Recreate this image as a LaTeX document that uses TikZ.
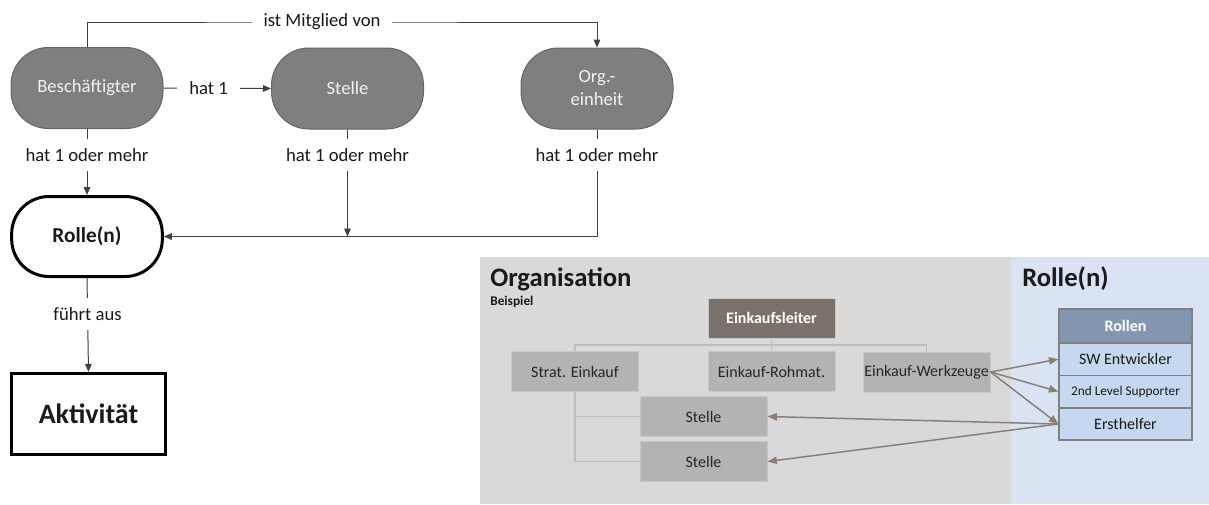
\documentclass[tikz,border=0pt]{standalone}
\usepackage{fontspec}
\setmainfont{Carlito}
\usetikzlibrary{arrows.meta}
\definecolor{nodegray}{HTML}{7F7F7F}
\definecolor{nodeborder}{HTML}{666666}
\definecolor{panelgray}{HTML}{D9D9D9}
\definecolor{panelblue}{HTML}{DAE3F3}
\definecolor{orgbox}{HTML}{B3B3B3}
\definecolor{orgboss}{HTML}{7B716B}
\definecolor{orgline}{HTML}{BDBDBD}
\definecolor{orgborder}{HTML}{C8C8C8}
\definecolor{rolehead}{HTML}{8497B0}
\definecolor{rolecell}{HTML}{C5D8F0}
\definecolor{roleborder}{HTML}{808080}
\definecolor{arrowcol}{HTML}{8A7E76}
\definecolor{txt}{HTML}{1A1A1A}
\begin{document}
\begin{tikzpicture}[x=0.75pt,y=-0.75pt,
  proc/.style={rectangle,rounded corners=28pt,fill=nodegray,draw=nodeborder,line width=0.75pt,
    minimum width=114pt,minimum height=60.75pt,inner sep=0pt,text=white!95!black,
    font=\fontsize{14}{17.25}\selectfont,align=center},
  rolebox/.style={rectangle,rounded corners=28pt,fill=white,draw=black,line width=2.25pt,
    minimum width=113pt,minimum height=60pt,inner sep=0pt,text=txt,font=\fontsize{16}{19}\selectfont\bfseries},
  actbox/.style={rectangle,fill=white,draw=black,line width=2.25pt,
    minimum width=116pt,minimum height=61pt,inner sep=0pt,text=txt,font=\fontsize{21}{25}\selectfont\bfseries},
  conn/.style={draw=black!75,line width=0.75pt},
  arr/.style={conn,-{Triangle[length=6pt,width=5pt]}},
  lbl/.style={fill=white,inner xsep=9pt,inner ysep=7pt,text=txt,font=\fontsize{14}{17}\selectfont},
  orgb/.style={rectangle,fill=orgbox,draw=orgborder,line width=0.75pt,minimum width=95.25pt,
    minimum height=30pt,inner sep=0pt,text=black!85,font=\fontsize{12}{14}\selectfont},
  bossb/.style={orgb,fill=orgboss,text=white,font=\fontsize{12}{14}\selectfont\bfseries},
  orgl/.style={draw=orgline,line width=1pt},
  rcell/.style={rectangle,fill=rolecell,draw=roleborder,line width=1.1pt,minimum width=99.75pt,
    minimum height=24.25pt,inner sep=0pt,text=txt,font=\fontsize{12}{14}\selectfont},
  rhead/.style={rcell,fill=rolehead,minimum height=25.5pt,text=white,font=\fontsize{12}{14}\selectfont\bfseries},
  rarr/.style={draw=arrowcol,line width=1.1pt,-{Triangle[length=7pt,width=5.5pt]}}
]
\useasboundingbox (0,0) rectangle (1209,504);
\fill[white] (0,0) rectangle (1209,504);

% ---------- left diagram ----------
\node[proc] (B) at (87,88) {Beschäftigter};
\node[proc] (S) at (347.5,88.5) {Stelle};
\node[proc] (O) at (597,88.5) {Org.-\\einheit};
\node[rolebox] (R) at (87,236.5) {Rolle(n)};
\node[actbox] (A) at (88.5,414) {Aktivität};
\coordinate (top) at (322,22);

\draw[arr] (B.north) |- (top) node[lbl]{ist Mitglied von} -| (O.north);
\draw[arr] (B.east) -- node[lbl,pos=0.42]{hat 1} (S.west);
\draw[arr] (B.south) -- node[lbl,pos=0.394]{hat 1 oder mehr} (R.north);
\draw[arr] (S.south) -- node[lbl,pos=0.24]{hat 1 oder mehr} (S.south |- R.east);
\draw[arr] (O.south) -- node[lbl,pos=0.24]{hat 1 oder mehr} (O.south |- R.east) -- (R.east);
\draw[arr] (R.south) -- node[lbl,pos=0.383]{führt aus} (A.north);

% ---------- right panel ----------
\fill[panelgray] (480,257) rectangle (1011,504);
\fill[panelblue] (1011,257) rectangle (1209,504);
\node[anchor=west,inner sep=0pt,text=txt,font=\fontsize{20}{24}\selectfont\bfseries] (orgtitle) at (490,279) {Organisation};
\node[anchor=west,inner sep=0pt,text=txt,font=\fontsize{10}{12}\selectfont\bfseries] (bsp) at (490,302) {Beispiel};
\node[anchor=west,inner sep=0pt,text=txt,font=\fontsize{20}{24}\selectfont\bfseries] (roltitle) at (1022,279) {Rolle(n)};

\node[bossb] (EL) at (771.5,318) {Einkaufsleiter};
\node[orgb] (SE) at (575,371.5) {Strat. Einkauf};
\node[orgb] (ER) at (771.5,371.5) {Einkauf-Rohmat.};
\node[orgb] (EW) at (926.5,372) {Einkauf-Werkzeuge};
\node[orgb] (S1) at (703.5,416.5) {Stelle};
\node[orgb] (S2) at (703.5,461.5) {Stelle};
\coordinate (bus) at (771.5,345);

\draw[orgl] (EL.south) -- (ER.north);
\draw[orgl] (SE.north) |- (bus) -| (EW.north);
\draw[orgl] (SE.south) |- (S1.west);
\draw[orgl] (SE.south) |- (S2.west);

\node[rhead] (RH) at (1125.5,326) {Rollen};
\node[rcell] (SW) at (1125.5,359.2) {SW Entwickler};
\node[rcell,font=\fontsize{10}{12}\selectfont] (L2) at (1125.5,391.5) {2nd Level Supporter};
\node[rcell] (EH) at (1125.5,424) {Ersthelfer};

\draw[rarr] (EW.east) -- (SW.west);
\draw[rarr] (EW.east) -- (L2.west);
\draw[rarr] (EW.east) -- (EH.west);
\draw[rarr] (EH.west) -- (S1.east);
\draw[rarr] (EH.west) -- (S2.east);
\end{tikzpicture}
\end{document}
